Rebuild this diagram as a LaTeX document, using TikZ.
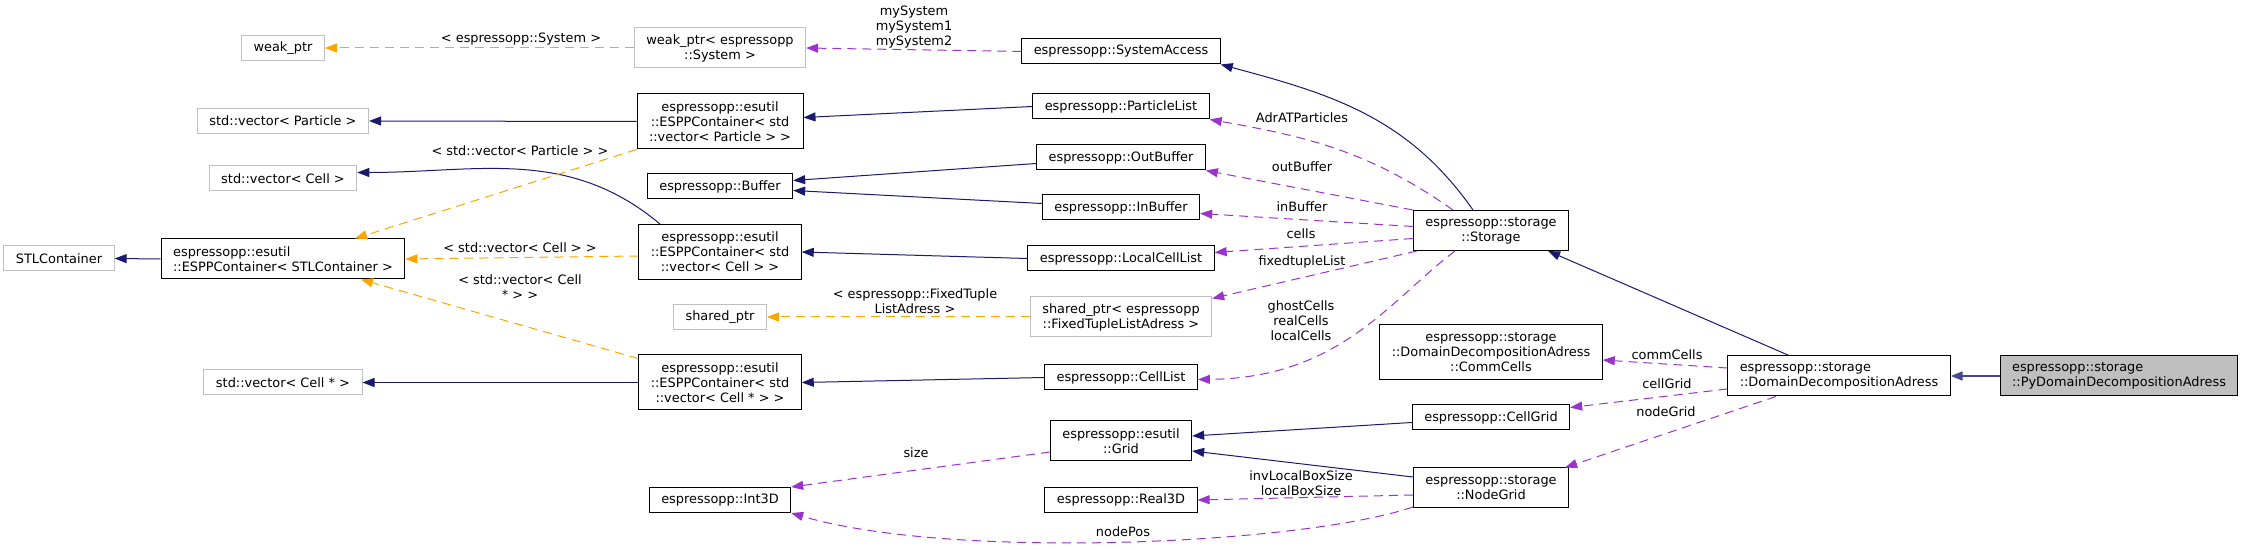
\documentclass[tikz,border=0pt]{standalone}
\usepackage{fontspec}
\setmainfont{DejaVu Sans}
\usetikzlibrary{arrows.meta}
\definecolor{dNavy}{HTML}{191970}
\definecolor{dOrchid}{HTML}{9A32CD}
\definecolor{dOrange}{HTML}{FFA500}
\definecolor{dGrey}{HTML}{BFBFBF}

\begin{document}
\begin{tikzpicture}[
			x=0.5pt,y=-0.5pt,
			>={Triangle[length=6pt,width=4.5pt]},
			font=\fontsize{6.45}{7.5}\selectfont,
			cls/.style={
				draw=black,
				fill=white,
				line width=0.5pt,
				inner xsep=6pt,
				inner ysep=0pt,
				minimum height=12.5pt,
				align=center
			},
			ext/.style={cls,draw=dGrey},
			l2/.style={minimum height=20pt},
			l3/.style={minimum height=27.5pt},
			inh/.style={->,draw=dNavy,line width=0.5pt},
			use/.style={->,draw=dOrchid,line width=0.5pt,dash pattern=on 4.5pt off 3pt},
			tpl/.style={->,draw=dOrange,line width=0.5pt,dash pattern=on 4.5pt off 3pt},
			lbl/.style={inner sep=0pt,align=center}
			]
			\path[use as bounding box](0,0) rectangle (2244,550);
			% column of templates
			\node[ext](stlcont) at (59,258.5){STLContainer};
			\node[ext](weakptr) at (283,48){weak\_ptr};
			\node[ext](vecpart) at (283,121){std::vector< Particle >};
			\node[ext](veccell) at (283,178.5){std::vector< Cell >};
			\node[cls,l2,align=left](esppSTL) at (283,259){espressopp::esutil\\::ESPPContainer< STLContainer >};
			\node[ext](veccellp) at (283,382.5){std::vector< Cell * >};
			% containers
			\node[ext,l2](wpsys) at (720,48){weak\_ptr< espressopp\\::System >};
			\node[cls,l3](esppPart) at (720,121.5){espressopp::esutil\\::ESPPContainer< std\\::vector< Particle > >};
			\node[cls](buffer) at (720,186.5){espressopp::Buffer};
			\node[cls,l3](esppCell) at (720,252){espressopp::esutil\\::ESPPContainer< std\\::vector< Cell > >};
			\node[ext](sharedptr) at (720,317){shared\_ptr};
			\node[cls,l3](esppCellP) at (720,382.5){espressopp::esutil\\::ESPPContainer< std\\::vector< Cell * > >};
			\node[cls](int3d) at (720,500){espressopp::Int3D};
			% members of Storage
			\node[cls](sysacc) at (1121,51.5){espressopp::SystemAccess};
			\node[cls](partlist) at (1121,106.5){espressopp::ParticleList};
			\node[cls](outbuf) at (1121,157.5){espressopp::OutBuffer};
			\node[cls](inbuf) at (1121,207.5){espressopp::InBuffer};
			\node[cls](lcl) at (1121,258.5){espressopp::LocalCellList};
			\node[ext,l2](sptrFTL) at (1121,317){shared\_ptr< espressopp\\::FixedTupleListAdress >};
			\node[cls](celllist) at (1121,377.5){espressopp::CellList};
			\node[cls,l2](grid) at (1121,441){espressopp::esutil\\::Grid};
			\node[cls](real3d) at (1121,500){espressopp::Real3D};
			% storage
			\node[cls,l2](storage) at (1491,230.5){espressopp::storage\\::Storage};
			\node[cls,l3](commcells) at (1491,352){espressopp::storage\\::DomainDecompositionAdress\\::CommCells};
			\node[cls](cellgrid) at (1491,417.5){espressopp::CellGrid};
			\node[cls,l2](nodegrid) at (1491,488){espressopp::storage\\::NodeGrid};
			\node[cls,l2,align=left](ddadress) at (1839,376){espressopp::storage\\::DomainDecompositionAdress};
			\node[cls,l2,fill=dGrey,align=left](pydd) at (2119,376){espressopp::storage\\::PyDomainDecompositionAdress};

			% inheritance
			\draw[inh](esppSTL.west)--(stlcont.east);
			\draw[inh](esppPart.west)--(vecpart.east);
			\draw[inh](esppCell.155) to[out=140,in=0] ([yshift=3pt]veccell.east);
			\draw[inh](esppCellP.west)--(veccellp.east);
			\draw[inh](partlist.west)--([yshift=2pt]esppPart.east);
			\draw[inh]([yshift=-3pt]outbuf.west)--([yshift=3pt]buffer.east);
			\draw[inh]([yshift=2pt]inbuf.west)--([yshift=-2pt]buffer.east);
			\draw[inh](lcl.west)--(esppCell.east);
			\draw[inh](celllist.west)--(esppCellP.east);
			\draw[inh]([yshift=-2.5pt]cellgrid.west)--([yshift=2.5pt]grid.east);
			\draw[inh]([yshift=5.5pt]nodegrid.west)--([yshift=-5pt]grid.east);
			\draw[inh]([xshift=-9pt]storage.north) to[out=125,in=-15] (sysacc.south east);
			\draw[inh]([xshift=-25pt]ddadress.north)--([xshift=-10.5pt]storage.south east);
			\draw[inh,line width=1pt,draw=dNavy!80](pydd.west)--(ddadress.east);

			% usage
			\draw[use](sysacc.west)--(wpsys.east);
			\draw[use]([xshift=-19pt]storage.north) to[out=145,in=-10] (partlist.south east);
			\draw[use](storage.north west)--(outbuf.south east);
			\draw[use]([yshift=2pt]storage.west)--([yshift=-3pt]inbuf.east);
			\draw[use]([yshift=-4pt]storage.west)--([yshift=3pt]lcl.east);
			\draw[use]([xshift=2pt]storage.south west)--([yshift=-1pt]sptrFTL.north east);
			\draw[use]([xshift=-18pt]storage.south) .. controls (1390,300) and (1340,378) .. ([yshift=-1pt]celllist.east);
			\draw[use]([yshift=4pt]ddadress.west)--([yshift=-4pt]commcells.east);
			\draw[use]([yshift=-6.5pt]ddadress.west)--([yshift=5pt]cellgrid.east);
			\draw[use]([xshift=-31.5pt]ddadress.south)--([xshift=-2pt]nodegrid.north east);
			\draw[use]([yshift=-5.5pt]grid.west)--(int3d.north east);
			\draw[use]([yshift=-3.5pt]nodegrid.west)--(real3d.east);
			\draw[use]([yshift=-9.5pt]nodegrid.west) .. controls (1300,545) and (950,560) .. (int3d.south east);

			% template instances
			\draw[tpl](wpsys.west)--(weakptr.east);
			\draw[tpl](esppPart.south west)--([xshift=36pt]esppSTL.north);
			\draw[tpl]([yshift=-2pt]esppCell.west)--(esppSTL.east);
			\draw[tpl]([yshift=-2pt]esppCellP.north west)--([xshift=39pt]esppSTL.south);
			\draw[tpl](sptrFTL.west)--(sharedptr.east);

			% labels
			\node[lbl](lSys) at (914,27){mySystem\\mySystem1\\mySystem2};
			\node[lbl](lAdr) at (1302,118){AdrATParticles};
			\node[lbl](lOut) at (1302,167){outBuffer};
			\node[lbl](lIn) at (1302,207){inBuffer};
			\node[lbl](lCells) at (1301,234){cells};
			\node[lbl](lFtl) at (1302,262){fixedtupleList};
			\node[lbl](lGhost) at (1301,321){ghostCells\\realCells\\localCells};
			\node[lbl](lSize) at (916,453){size};
			\node[lbl](lBox) at (1301,483){invLocalBoxSize\\localBoxSize};
			\node[lbl](lPos) at (1123,532){nodePos};
			\node[lbl](lComm) at (1667,355){commCells};
			\node[lbl](lCgrid) at (1667,384){cellGrid};
			\node[lbl](lNgrid) at (1666,412){nodeGrid};
			\node[lbl](tSys) at (521,39){< espressopp::System >};
			\node[lbl](tPart) at (520,151){< std::vector< Particle > >};
			\node[lbl](tCell) at (520,248){< std::vector< Cell > >};
			\node[lbl](tCellP) at (520,287){< std::vector< Cell\\* > >};
			\node[lbl](tFtl) at (915,301){< espressopp::FixedTuple\\ListAdress >};
		\end{tikzpicture}
\end{document}
